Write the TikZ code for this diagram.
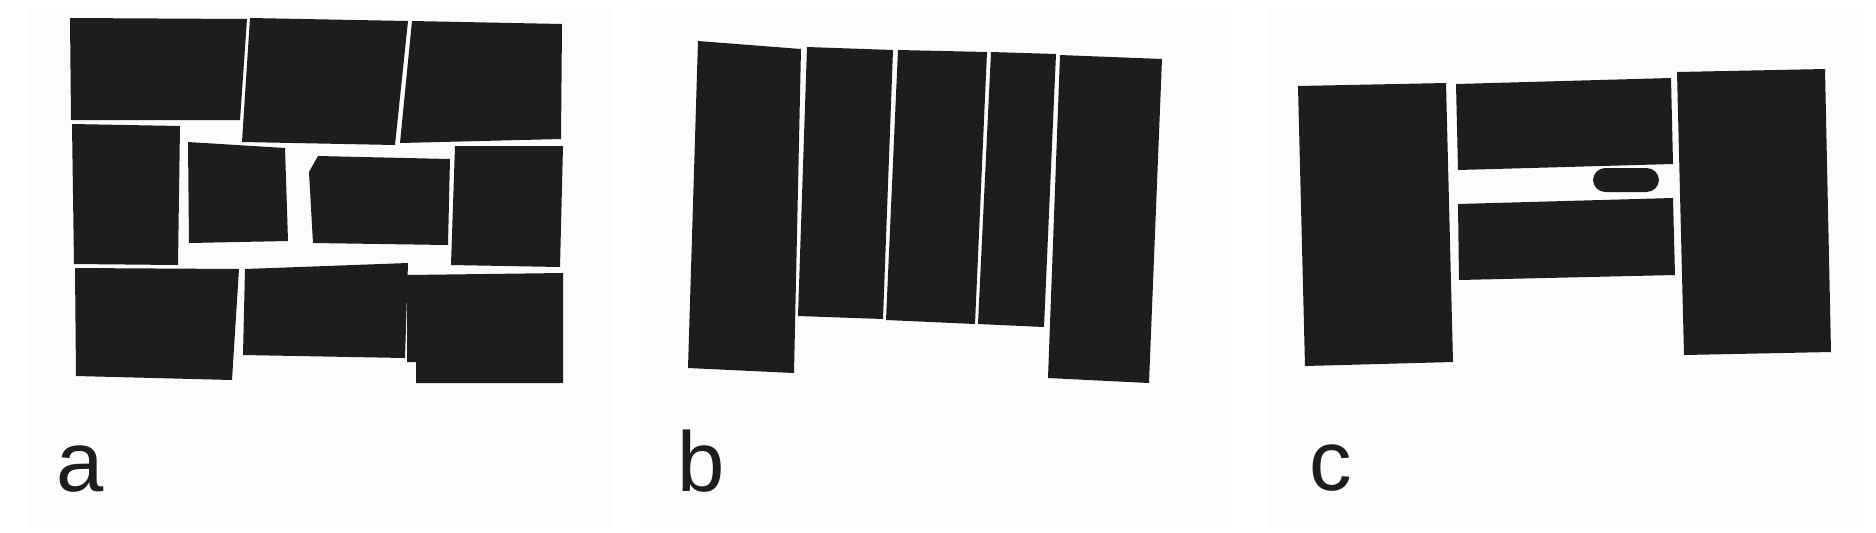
\documentclass[tikz,border=0pt]{standalone}
\usepackage{fontspec}
\setmainfont{Liberation Sans}
\definecolor{ink}{RGB}{30,28,29}
\definecolor{sheet}{RGB}{252,252,252}

\begin{document}
\begin{tikzpicture}[x=0.5pt,y=-0.5pt,
		block/.style={fill=ink},
		panel/.style={fill=sheet},
		tag/.style={anchor=base west,inner sep=0pt,text=ink,font=\fontsize{42.5}{50}\selectfont}]
			\useasboundingbox (0,0) rectangle (1876,532);
			\fill[white] (0,0) rectangle (1876,532);
			%\draw [help lines,step=100] (0,0) grid (1876,532);
			\fill[panel] (26,8) rectangle (610,529);
			\fill[panel] (641,8) rectangle (1233,529);
			\fill[panel] (1270,8) rectangle (1863,529);
			% a
			\fill[block] (70,18) -- (247,19) -- (240,120) -- (71,120) -- cycle;
			\fill[block] (250,18) -- (408,21) -- (395,145) -- (242,142) -- cycle;
			\fill[block] (412,21) -- (562,24) -- (561,139) -- (400,143) -- cycle;
			\fill[block] (72,124) -- (180,126) -- (178,265) -- (74,264) -- cycle;
			\fill[block] (188,142) -- (285,148) -- (288,241) -- (189,243) -- cycle;
			\fill[block] (318,156) -- (450,159) -- (448,245) -- (313,243) -- (309,172) -- cycle;
			\fill[block] (455,146) -- (563,146) -- (560,267) -- (451,265) -- cycle;
			\fill[block] (75,268) -- (239,269) -- (232,380) -- (76,376) -- cycle;
			\fill[block] (245,269) -- (408,263) -- (405,358) -- (243,355) -- cycle;
			\fill[block] (407,275) -- (563,273) -- (563,383) -- (416,383) -- (416,362) -- (407,362) -- cycle;
			\node[tag] (laba) at (56,491) {a};
			% b
			\fill[block] (698,41) -- (801,49) -- (794,373) -- (688,368) -- cycle;
			\fill[block] (807,47) -- (893,50) -- (883,319) -- (798,316) -- cycle;
			\fill[block] (898,50) -- (987,52) -- (975,324) -- (886,320) -- cycle;
			\fill[block] (991,52) -- (1056,54) -- (1044,327) -- (978,324) -- cycle;
			\fill[block] (1060,55) -- (1162,59) -- (1149,383) -- (1048,378) -- cycle;
			\node[tag] (labb) at (677,491) {b};
			% c
			\fill[block] (1298,86) -- (1446,83) -- (1453,362) -- (1305,366) -- cycle;
			\fill[block] (1456,84) -- (1671,78) -- (1673,164) -- (1458,170) -- cycle;
			\fill[block] (1458,204) -- (1673,198) -- (1675,275) -- (1459,280) -- cycle;
			\fill[block,rounded corners=6.2pt] (1593,168) rectangle (1659,192);
			\fill[block] (1677,72) -- (1825,69) -- (1831,352) -- (1684,355) -- cycle;
			\node[tag] (labc) at (1309,490) {c};
		\end{tikzpicture}
\end{document}
